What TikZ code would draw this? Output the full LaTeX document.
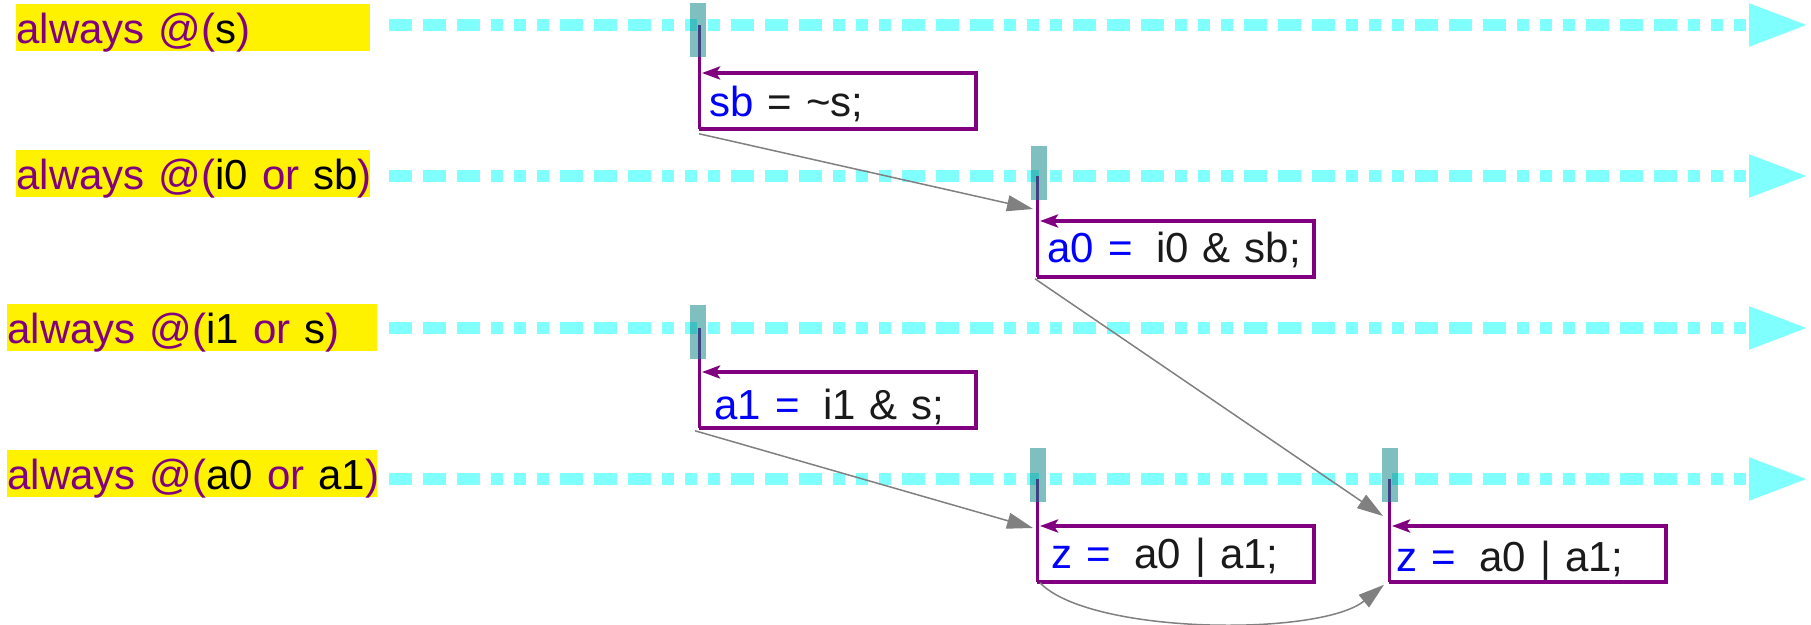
\documentclass[tikz,border=0pt]{standalone}
\usepackage{fontspec}
\setmainfont{Liberation Sans}
\usetikzlibrary{arrows.meta,positioning}
\definecolor{kwpurple}{HTML}{800080}
\definecolor{sigblue}{HTML}{0000FF}
\definecolor{codegray}{HTML}{1A1A1A}
\definecolor{trackcyan}{HTML}{80FFFF}
\definecolor{actteal}{HTML}{008080}
\newcommand{\signame}[1]{\textcolor{black}{#1}}
\newcommand{\lhs}[1]{\textcolor{sigblue}{#1}}
\tikzset{proc/.style={rectangle,fill=yellow,text=kwpurple,anchor=north west,inner sep=0pt,text height=19.5pt,text depth=4pt,align=left,text width=#1},
		track/.style={trackcyan,line width=5.7pt,dash pattern=on 11.25pt off 5.75pt on 11.25pt off 5.75pt on 11.25pt off 5.75pt on 5.75pt off 5.75pt on 5.75pt off 5.75pt on 5.75pt off 5.75pt,-{Triangle[length=29.5pt,width=20pt]}},
		wake/.style={draw=gray,line width=0.75pt,-{Triangle[length=13pt,width=8pt]}}}

\begin{document}
\begin{tikzpicture}[x=0.5pt,y=-0.5pt,every node/.style={font=\fontsize{21pt}{25pt}\selectfont},
		assign/.style={rectangle,anchor=north west,inner xsep=5pt,inner ysep=0pt,minimum height=27.5pt,text width=128pt,align=left,text=codegray,text depth=0pt,text height=#1},
		act/.style={rectangle,fill=actteal,fill opacity=0.5,minimum width=8pt,minimum height=27pt,inner sep=0pt,anchor=north west},
		lifeline/.style={kwpurple,line width=1.5pt},
		call/.style={kwpurple,line width=2pt,-{Stealth[length=9pt,width=6.5pt,inset=2pt]}}]
		\useasboundingbox (0,0) rectangle (1811,625);
		
		% the four always blocks and their time tracks
		\node[proc=177pt] (proc-s) at (16,4) {\mbox{always @(\signame{s})}};
		\node[proc=177pt] (proc-i0-sb) at (16,150) {\mbox{always @(\signame{i0} or \signame{sb})}};
		\node[proc=185pt] (proc-i1-s) at (7,304) {\mbox{always @(\signame{i1} or \signame{s})}};
		\node[proc=185pt] (proc-a0-a1) at (7,450) {\mbox{always @(\signame{a0} or \signame{a1})}};
		
		\coordinate (track-s) at (389,25);
		\coordinate (track-s-end) at (1808,25);
		\coordinate (track-i0-sb) at (389,176);
		\coordinate (track-i0-sb-end) at (1808,176);
		\coordinate (track-i1-s) at (389,328);
		\coordinate (track-i1-s-end) at (1808,328);
		\coordinate (track-a0-a1) at (389,479);
		\coordinate (track-a0-a1-end) at (1808,479);
		\draw[track] (track-s) -- (track-s-end);
		\draw[track] (track-i0-sb) -- (track-i0-sb-end);
		\draw[track] (track-i1-s) -- (track-i1-s-end);
		\draw[track] (track-a0-a1) -- (track-a0-a1-end);
		
		% statements executed on each wake-up
		\node[assign=16pt] (assign-sb) at (699,73) {\mbox{\lhs{sb} = \textasciitilde s;}};
		\node[assign=13.5pt] (assign-a0) at (1037,221) {\mbox{\lhs{a0 =}\hspace{0.56em}i0 \& sb;}};
		\node[assign=19.5pt] (assign-a1) at (699,372) {\mbox{\hspace*{2.5pt}\lhs{a1 =}\hspace{0.56em}i1 \& s;}};
		\node[assign=14.5pt] (assign-z-1) at (1037,526) {\mbox{\hspace*{2pt}\lhs{z =}\hspace{0.56em}a0 | a1;}};
		\node[assign=17.5pt] (assign-z-2) at (1389,526) {\mbox{\hspace*{-1.5pt}\lhs{z =}\hspace{0.56em}a0 | a1;}};
		
		\foreach \blk/\trk in {assign-sb/track-s,assign-a0/track-i0-sb,assign-a1/track-i1-s,assign-z-1/track-a0-a1,assign-z-2/track-a0-a1} {
			\draw[lifeline] (\blk.south west) -- (\blk.south west |- \trk);
			\draw[call] (\blk.south west) -- (\blk.south east) -- (\blk.north east) -- ([xshift=1.5pt]\blk.north west);
		}
		
		% events that wake the next block
		\draw[wake] ([yshift=-2.5pt]assign-sb.south west) -- ([shift={(-2pt,6pt)}]assign-a0.north west);
		\draw[wake] ([shift={(-1pt,-1pt)}]assign-a0.south west) -- ([shift={(-3pt,5pt)}]assign-z-2.north west);
		\draw[wake] ([shift={(-2pt,-1.5pt)}]assign-a1.south west) -- ([shift={(-2pt,-1pt)}]assign-z-1.north west);
		\draw[wake] ([shift={(1.5pt,-0.5pt)}]assign-z-1.south west) .. controls +(50,52) and +(-64,52) .. ([shift={(-2.5pt,-1.5pt)}]assign-z-2.south west);
		
		% activation marks on the tracks
		\node[act] (act-sb) at (690,3) {};
		\node[act] (act-a0) at (1031,146) {};
		\node[act] (act-a1) at (690,305) {};
		\node[act] (act-z-1) at (1030,448) {};
		\node[act] (act-z-2) at (1382,448) {};
\end{tikzpicture}
\end{document}
